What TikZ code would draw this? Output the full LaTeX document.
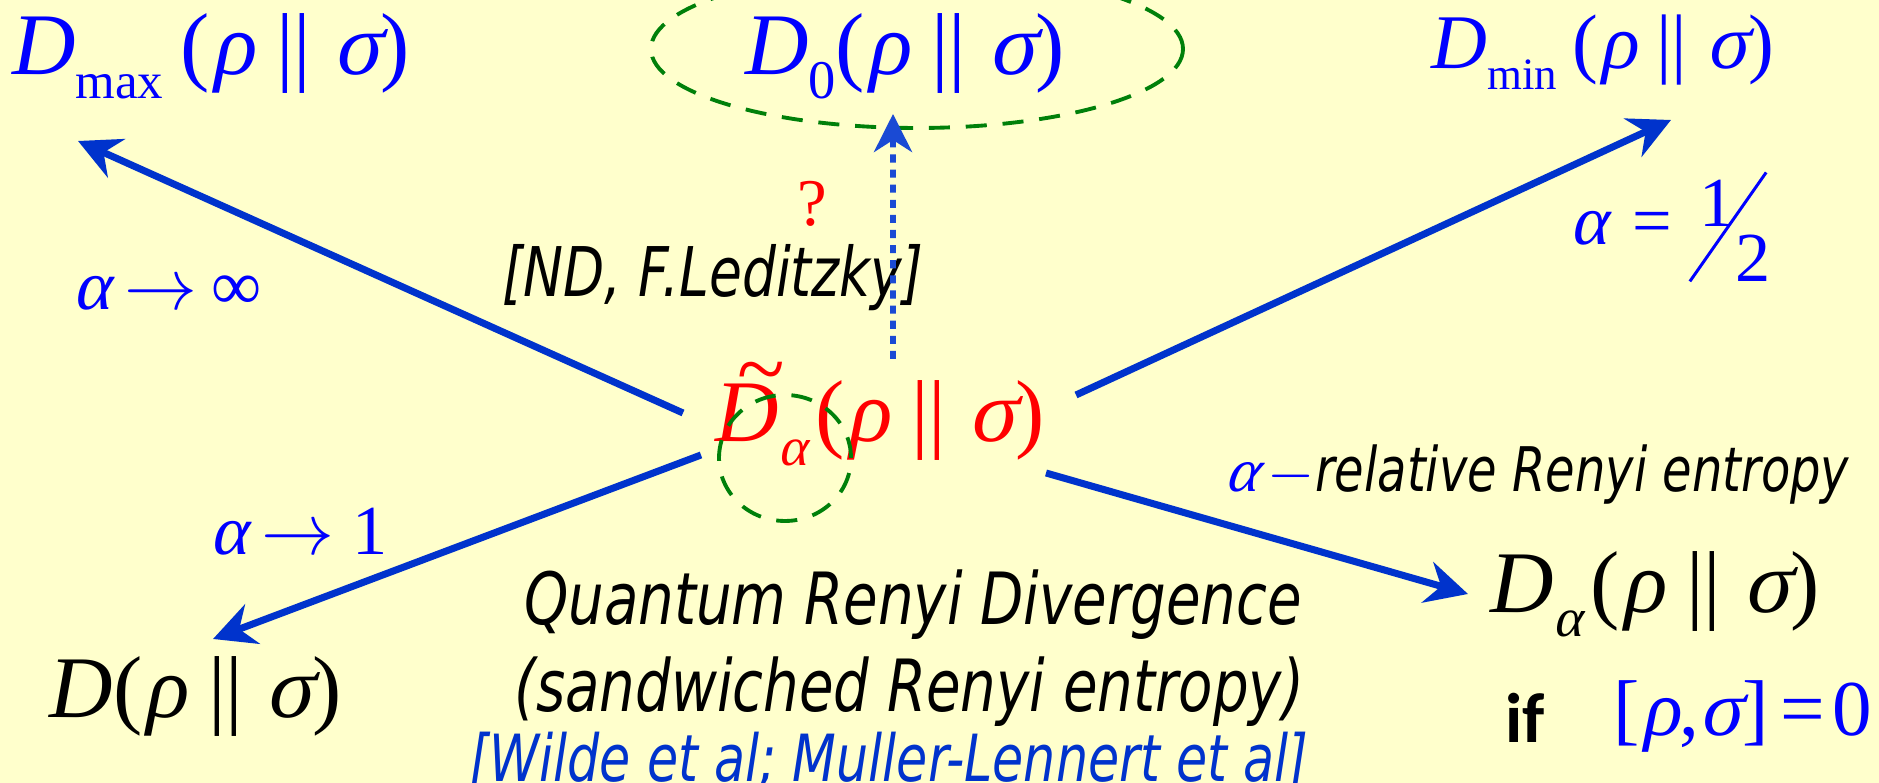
\documentclass[tikz,border=0pt]{standalone}
\usepackage{graphicx}
\usepackage{fontspec}
\setmainfont{Liberation Serif}
\newfontfamily\grk{Liberation Serif}[FakeSlant=0.2]
\newfontfamily\slidesf{DejaVu Sans}[FakeStretch=0.78]
\newfontfamily\ifsf{Carlito}
\usetikzlibrary{arrows.meta,positioning,calc}
\definecolor{slidebg}{HTML}{FFFFCC}
\definecolor{arrblue}{HTML}{0033CC}
\definecolor{dotblue}{HTML}{1A4AD4}
\definecolor{txtblue}{HTML}{0000FF}
\definecolor{refblue}{HTML}{0033CC}
\definecolor{halogreen}{HTML}{00800A}
\definecolor{hotred}{HTML}{FF0000}
% divergence pieces, set in the text font
\newcommand{\gr}[1]{{\grk #1}}
\newcommand{\lowsub}[2][0.58]{\raisebox{-0.27em}{\scalebox{#1}{#2}}}
\newcommand{\pair}{(\gr{ρ}\kern0.25em||\kern0.25em\gr{σ})}
\newcommand{\tildeD}{\rlap{\kern0.25em\raisebox{0.5em}{\textasciitilde}}\textit{D}}
\tikzset{
  fml/.style={inner sep=0pt, anchor=base, font=\fontsize{25}{29}\selectfont},
  lim/.style={inner sep=0pt, anchor=base west, text=txtblue, font=\fontsize{20}{24}\selectfont},
  capt/.style={inner sep=0pt, font=\slidesf\itshape\fontsize{20.5}{24}\selectfont},
  note/.style={inner sep=0pt, font=\slidesf\itshape\fontsize{19.5}{23}\selectfont},
  arr/.style={-{Stealth[length=4.2mm, width=4.2mm, inset=1.4mm]}, line width=2pt, color=arrblue},
  dotarr/.style={-{Stealth[length=3.8mm, width=3.8mm, inset=1.2mm]}, line width=1.7pt, color=dotblue, dash pattern=on 2.3pt off 2pt},
  halo/.style={draw=halogreen, line width=1.1pt, dash pattern=on 6pt off 4.5pt},
}
\begin{document}
\begin{tikzpicture}
    \fill[slidebg] (0,0) rectangle (18.79,7.83);
    \useasboundingbox (0,0) rectangle (18.79,7.83);
    % top row
    \node[fml, text=txtblue] (dmax) at (2.11,7.08) {\textit{D}\lowsub{max}\kern0.2em\pair};
    \node[fml, text=txtblue] (d0) at (9.05,7.08) {\textit{D}\lowsub[0.62]{0}\pair};
    \node[fml, text=txtblue, font=\fontsize{22}{26}\selectfont] (dmin) at (16.03,7.14) {\textit{D}\lowsub{min}\kern0.2em\pair};
    \draw[halo] ([shift={(0.12,0.26)}]d0.base) ellipse (2.66 and 0.79);
    % middle
    \node[fml, text=hotred] (ctr) at (8.80,3.41) {\tildeD\lowsub[0.62]{\gr{α}}\kern0.1em\pair};
    \draw[halo] ([shift={(-0.95,-0.16)}]ctr.base) ellipse (0.66 and 0.63);
    % bottom row
    \node[fml] (dkl) at (1.96,0.65) {\textit{D}\pair};
    \node[fml] (dal) at (16.55,1.70) {\textit{D}\lowsub[0.62]{\gr{α}}\kern0.1em\pair};
    \node[inner sep=0pt, anchor=base, font=\ifsf\bfseries\fontsize{20}{24}\selectfont] (iff) at (15.25,0.40) {if};
    \node[inner sep=0pt, anchor=base east, text=txtblue, font=\fontsize{22.5}{26}\selectfont] (comm) at (18.73,0.47) {[\gr{ρ},\gr{σ}]\kern0.15em=\kern0.1em0};
    % limits and labels
    \node[lim] (linf) at (0.73,4.73) {\gr{α}\kern0.2em$\to$\kern0.2em∞};
    \node[lim] (lone) at (2.10,2.28) {\gr{α}\kern0.2em$\to$\kern0.25em1};
    \node[lim] (lhalf) at (15.70,5.38)
      {\gr{α}\kern0.35em=\kern0.4em\rlap{\kern-0.16em\raisebox{-0.53em}{\rotatebox{55}{\rule{1.33cm}{0.85pt}}}}\raisebox{0.27em}{1}\raisebox{-0.52em}{2}};
    \node[inner sep=0pt, text=hotred, font=\fontsize{19}{22}\selectfont] (qm) at (8.12,5.79) {?};
    \node[note] (nd) at (7.13,5.05) {[ND, F.Leditzky]};
    \node[note, anchor=base east, font=\slidesf\itshape\fontsize{17.5}{21}\selectfont] (rel) at (18.50,2.91) {\textcolor{txtblue}{\gr{α}\kern0.15em$-$}relative Renyi entropy};
    \node[capt] (qrd) at (9.13,1.78) {Quantum Renyi Divergence};
    \node[capt] (sw) at (9.09,0.91) {(sandwiched Renyi entropy)};
    \node[capt, text=refblue, font=\slidesf\itshape\fontsize{18.5}{21}\selectfont] (cite) at (8.89,0.22) {[Wilde et al; Muller-Lennert et al]};
    % arrows out of the centre
    \draw[arr] ([shift={(-1.97,0.29)}]ctr.base) -- ([shift={(-1.33,-0.66)}]dmax.base);
    \draw[arr] ([shift={(-1.79,-0.13)}]ctr.base) -- ([shift={(0.17,0.79)}]dkl.base);
    \draw[arr] ([shift={(1.96,0.47)}]ctr.base) -- ([shift={(0.68,-0.51)}]dmin.base);
    \draw[arr] ([shift={(1.66,-0.31)}]ctr.base) -- ([shift={(-1.87,0.19)}]dal.base);
    \draw[dotarr] ([shift={(0.13,0.83)}]ctr.base) -- ([shift={(-0.12,-0.39)}]d0.base);
  \end{tikzpicture}
\end{document}
